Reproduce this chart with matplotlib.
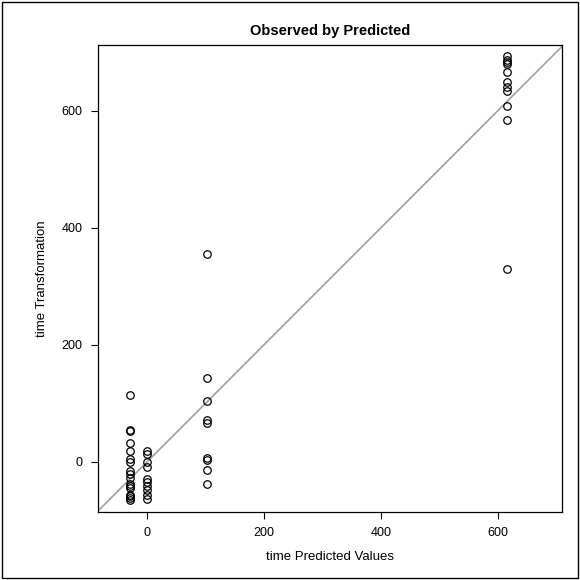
import matplotlib
matplotlib.use("Agg")
import matplotlib.pyplot as plt
from matplotlib.patches import Rectangle

plt.rcParams['font.family'] = ['Liberation Sans', 'DejaVu Sans']

# predicted values (x) and observed transformation values (y)
pred_g1 = -30
obs_g1 = [115, 54, 52, 33, 18, 4, 0, -16, -20, -27, -38, -41, -44, -56, -59, -62, -65]
pred_g2 = 0
obs_g2 = [19, 14, 0, -8, -30, -34, -42, -48, -57, -63]
pred_g3 = 103
obs_g3 = [356, 143, 104, 72, 66, 7, 3, -14, -38]
pred_g4 = 615
obs_g4 = [693, 687, 683, 680, 666, 650, 641, 633, 608, 585, 329]

x = ([pred_g1] * len(obs_g1) + [pred_g2] * len(obs_g2)
     + [pred_g3] * len(obs_g3) + [pred_g4] * len(obs_g4))
y = obs_g1 + obs_g2 + obs_g3 + obs_g4

xlim = (-84, 710)
ylim = (-86, 713)
ticks = [0, 200, 400, 600]

fig = plt.figure(figsize=(5.8, 5.8), dpi=100)
fig.patches.append(Rectangle((0.004, 0.004), 0.992, 0.992, transform=fig.transFigure,
                             fill=False, edgecolor='black', linewidth=1.0))
ax = fig.add_axes([0.169, 0.117, 0.800, 0.806])

lo = min(xlim[0], ylim[0])
hi = max(xlim[1], ylim[1])
ax.plot([lo, hi], [lo, hi], color='#a0a0a0', linewidth=1.2, zorder=1)
ax.plot(x, y, linestyle='none', marker='o', markersize=5.4,
        markerfacecolor='none', markeredgecolor='black', markeredgewidth=0.9, zorder=2)

ax.set_xlim(*xlim)
ax.set_ylim(*ylim)
ax.set_xticks(ticks)
ax.set_yticks(ticks)
ax.tick_params(direction='out', length=5, width=0.8, labelsize=9, pad=6)
for s in ax.spines.values():
    s.set_linewidth(0.9)
ax.set_title('Observed by Predicted', fontsize=10.5, fontweight='bold', pad=7)
ax.set_xlabel('time Predicted Values', fontsize=9.5, labelpad=8)
ax.set_ylabel('time Transformation', fontsize=9.5, labelpad=10)

fig.savefig('out.png', dpi=100)
